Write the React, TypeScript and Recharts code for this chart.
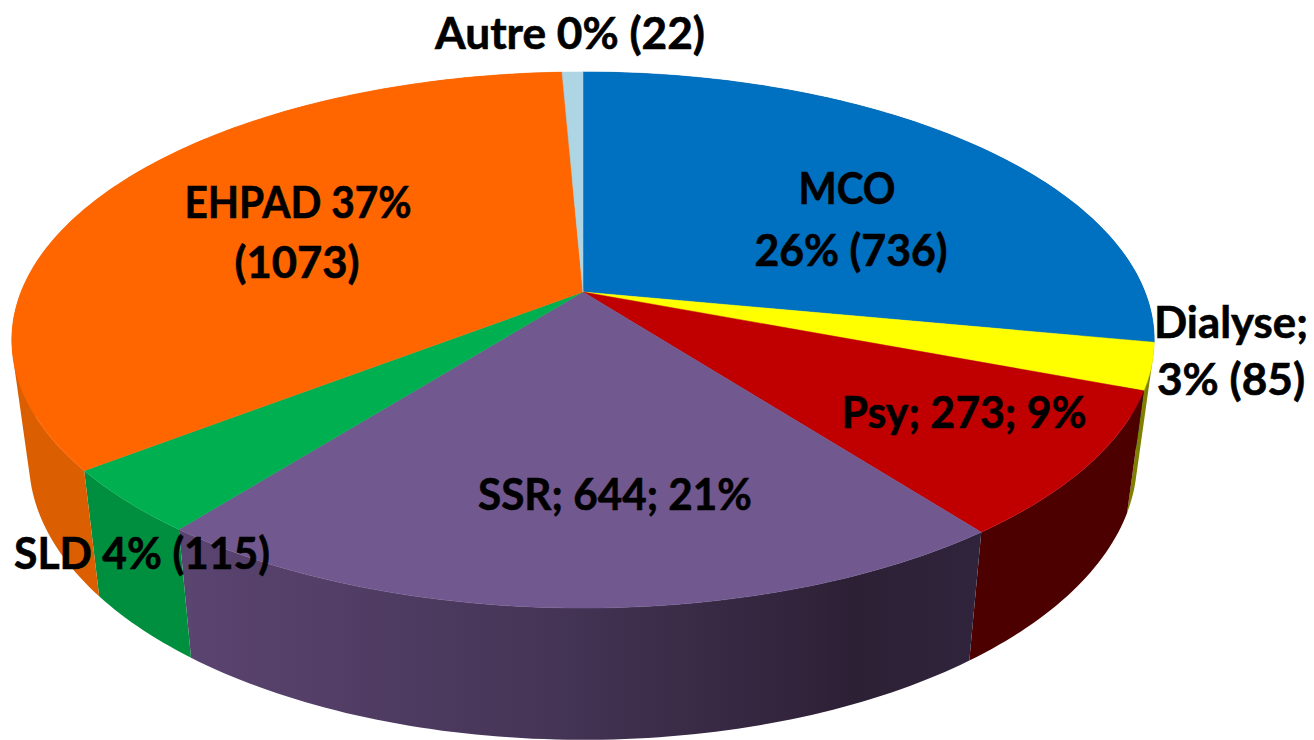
import React from "react";
import { PieChart, Pie } from "recharts";

// slice sizes as measured on the drawing (the printed labels round them differently)
const names = ["MCO", "Dialyse", "Psy", "SSR", "SLD", "EHPAD", "Autre"];
const shares = [28.0, 2.8, 8.8, 21.0, 3.9, 34.8, 0.7];
const topColors = ["#0070C0", "#FFFF00", "#C00000", "#71588F", "#00B050", "#FF6600", "#ADD5E3"];
const wallColors = ["#00406E", "#7F7F00", "#4C0000", "url(#ssrWall)", "#008F3F", "#DB5F00", "#6E8E99"];

const labelLines: Record<string, string[]> = {
  MCO: ["MCO", "26% (736)"],
  Dialyse: ["Dialyse;", "3% (85)"],
  Psy: ["Psy; 273; 9%"],
  SSR: ["SSR; 644; 21%"],
  SLD: ["SLD 4% (115)"],
  EHPAD: ["EHPAD 37%", "(1073)"],
  Autre: ["Autre 0% (22)"],
};

const topData = names.map((name, i) => ({ name, share: shares[i], fill: topColors[i] }));
const wallData = names.map((name, i) => ({ name, share: shares[i], fill: wallColors[i] }));

// one entry per label line: centre x, baseline y, width of the line
const labelSpots: Record<string, { x: number; y: number; w: number }[]> = {
  MCO: [{ x: 847, y: 204, w: 97 }, { x: 851, y: 266, w: 193 }],
  Dialyse: [{ x: 1231, y: 338, w: 154 }, { x: 1231, y: 395, w: 148 }],
  Psy: [{ x: 964, y: 428, w: 245 }],
  SSR: [{ x: 615, y: 510, w: 274 }],
  SLD: [{ x: 142, y: 569, w: 256 }],
  EHPAD: [{ x: 298, y: 218, w: 227 }, { x: 297, y: 278, w: 125 }],
  Autre: [{ x: 570, y: 49, w: 270 }],
};

// perspective of the tilted disc
const TILT = 0.179;
const Y_RATIO = 0.4617;
const FLOOR_X = 0.97;
const FLOOR_Y = 1.044;
const FLOOR_DROP = 105;

type Pt = { x: number; y: number };

function project(cx: number, cy: number, r: number, angle: number): Pt {
  const rad = ((90 - angle) * Math.PI) / 180;
  const u = Math.sin(rad);
  const v = Math.cos(rad);
  const d = 1 + TILT * v;
  return { x: cx + (r * u) / d, y: cy - (r * Y_RATIO * v) / d };
}

function arcAngles(start: number, end: number) {
  const steps = Math.max(2, Math.ceil(Math.abs(end - start)));
  return Array.from({ length: steps + 1 }, (_, i) => start + ((end - start) * i) / steps);
}

function TopSlice(props: any) {
  const { cx, cy, outerRadius, startAngle, endAngle, fill } = props;
  const pts = arcAngles(startAngle, endAngle).map((a) => project(cx, cy, outerRadius, a));
  const d = `M${cx},${cy} ` + pts.map((p) => `L${p.x},${p.y}`).join(" ") + " Z";
  return <path d={d} fill={fill} stroke={fill} strokeWidth={0.5} />;
}

// one path per slice, every quad wound the same way so the union fills without seams
function WallSlice(props: any) {
  const { cx, cy, outerRadius, startAngle, endAngle, fill } = props;
  const pts = arcAngles(startAngle, endAngle).map((a) => project(cx, cy, outerRadius, a));
  const low = (p: Pt): Pt => ({
    x: cx + (p.x - cx) * FLOOR_X,
    y: p.y * FLOOR_Y + FLOOR_DROP,
  });
  const quads = pts.slice(1).map((p, i) => {
    const q = pts[i];
    const quad = [q, p, low(p), low(q)];
    const area = quad.reduce((sum, c, j) => {
      const n = quad[(j + 1) % 4];
      return sum + c.x * n.y - n.x * c.y;
    }, 0);
    const ordered = area < 0 ? [...quad].reverse() : quad;
    return "M" + ordered.map((c) => `${c.x},${c.y}`).join(" L") + " Z";
  });
  return <path d={quads.join(" ")} fill={fill} fillRule="nonzero" />;
}

function SliceLabel(props: any) {
  const spots = labelSpots[props.name];
  const lines = labelLines[props.name];
  return (
    <g>
      {lines.map((line, i) => (
        <text
          key={line}
          x={spots[i].x}
          y={spots[i].y}
          textAnchor="middle"
          textLength={spots[i].w}
          lengthAdjust="spacingAndGlyphs"
          fontFamily="Lato, sans-serif"
          fontWeight={700}
          fontSize={44}
          fill="#000000"
          stroke="#000000"
          strokeWidth={0.6}
        >
          {line}
        </text>
      ))}
    </g>
  );
}

export default function App() {
  return (
    <div style={{ position: "absolute", left: 0, top: 0, width: 1314, height: 740, background: "#fff" }}>
      <PieChart width={1314} height={740} margin={{ top: 0, right: 0, bottom: 0, left: 0 }}>
        <defs>
          <linearGradient id="ssrWall" gradientUnits="userSpaceOnUse" x1={190} y1={0} x2={972} y2={0}>
            <stop offset="0%" stopColor="#5A4470" />
            <stop offset="45%" stopColor="#463557" />
            <stop offset="85%" stopColor="#2C2035" />
            <stop offset="100%" stopColor="#30243C" />
          </linearGradient>
        </defs>
        <Pie
          data={wallData}
          dataKey="share"
          nameKey="name"
          cx={583}
          cy={292}
          outerRadius={562}
          startAngle={90}
          endAngle={-270}
          stroke="none"
          shape={WallSlice}
          inactiveShape={WallSlice}
          isAnimationActive={false}
        />
        <Pie
          data={topData}
          dataKey="share"
          nameKey="name"
          cx={583}
          cy={292}
          outerRadius={562}
          startAngle={90}
          endAngle={-270}
          stroke="none"
          shape={TopSlice}
          inactiveShape={TopSlice}
          label={SliceLabel}
          labelLine={false}
          isAnimationActive={false}
        />
      </PieChart>
    </div>
  );
}
